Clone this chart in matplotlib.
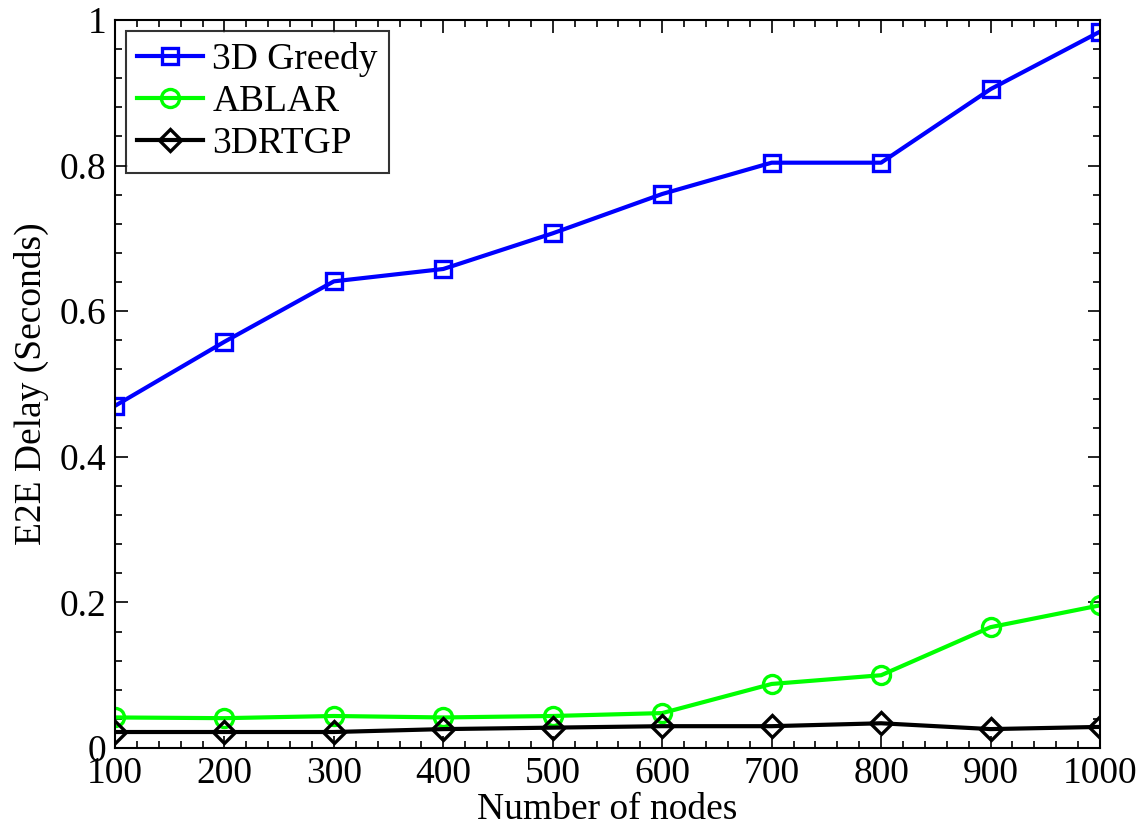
import matplotlib
matplotlib.use('Agg')
import matplotlib.pyplot as plt
from matplotlib.ticker import MultipleLocator

# node counts and end-to-end delay per protocol
nodes = [100, 200, 300, 400, 500, 600, 700, 800, 900, 1000]
greedy_3d = [0.470, 0.558, 0.641, 0.658, 0.707, 0.761, 0.804, 0.804, 0.905, 0.984]
ablar = [0.042, 0.041, 0.044, 0.042, 0.044, 0.048, 0.088, 0.100, 0.166, 0.196]
rtgp_3d = [0.022, 0.022, 0.022, 0.026, 0.028, 0.030, 0.030, 0.034, 0.026, 0.029]

plt.rcParams['font.family'] = ['Liberation Serif', 'DejaVu Serif']

fig = plt.figure(figsize=(11.45, 8.26), dpi=100)
ax = fig.add_axes([0.1004, 0.0944, 0.8603, 0.8814])

ax.plot(nodes, greedy_3d, color='#0000ff', lw=3.0, marker='s', ms=11,
        mfc='none', mew=2.4, label='3D Greedy')
ax.plot(nodes, ablar, color='#00ff00', lw=3.0, marker='o', ms=13,
        mfc='none', mew=2.4, label='ABLAR')
ax.plot(nodes, rtgp_3d, color='black', lw=3.0, marker='D', ms=11,
        mfc='none', mew=2.4, label='3DRTGP')

ax.set_xlim(100, 1000)
ax.set_ylim(0, 1)
ax.xaxis.set_major_locator(MultipleLocator(100))
ax.xaxis.set_minor_locator(MultipleLocator(20))
ax.yaxis.set_minor_locator(MultipleLocator(0.04))
ax.set_yticks([0, 0.2, 0.4, 0.6, 0.8, 1.0])
ax.set_yticklabels(['0', '0.2', '0.4', '0.6', '0.8', '1'])

ax.tick_params(which='both', direction='in', top=True, right=True,
               labelsize=27, width=1.2)
ax.tick_params(which='major', length=9, pad=6)
ax.tick_params(which='minor', length=5)
for s in ax.spines.values():
    s.set_linewidth(1.5)

ax.set_xlabel('Number of nodes', fontsize=27, labelpad=1)
ax.set_ylabel('E2E Delay (Seconds)', fontsize=27, labelpad=8)

leg = ax.legend(loc='upper left', fontsize=27, frameon=True, fancybox=False,
                edgecolor='black', handlelength=1.75, borderpad=0.3,
                labelspacing=0.2, handletextpad=0.25, borderaxespad=0.3)
leg.get_frame().set_linewidth(1.5)

fig.savefig('out.png', dpi=100)
